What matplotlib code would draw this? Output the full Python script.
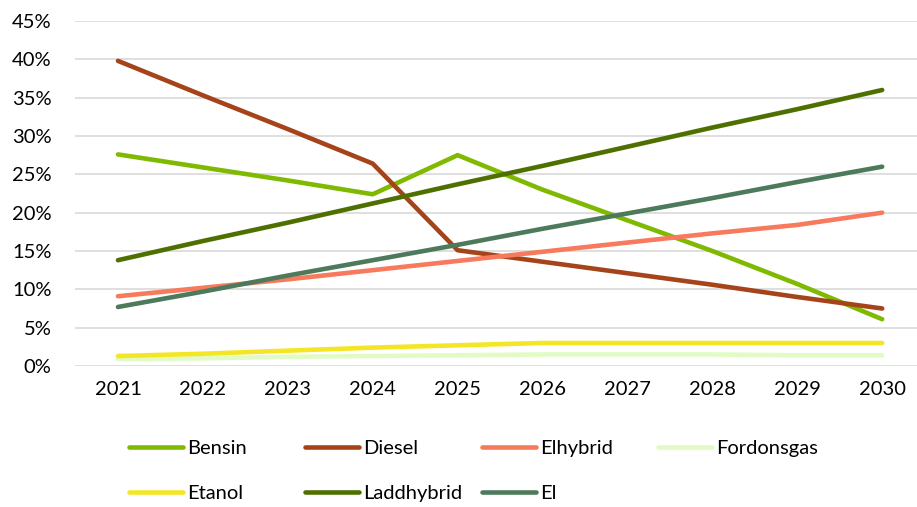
import matplotlib.pyplot as plt
from matplotlib.ticker import PercentFormatter

plt.rcParams["font.family"] = ["Lato", "DejaVu Sans"]

years = [2021, 2022, 2023, 2024, 2025, 2026, 2027, 2028, 2029, 2030]
bensin = [27.6, 25.9, 24.2, 22.4, 27.5, 23.0, 19.0, 15.0, 10.7, 6.1]
diesel = [39.8, 35.3, 30.9, 26.4, 15.1, 13.6, 12.1, 10.6, 9.0, 7.5]
elhybrid = [9.1, 10.2, 11.3, 12.5, 13.7, 14.9, 16.1, 17.3, 18.4, 20.0]
fordonsgas = [0.9, 1.0, 1.2, 1.3, 1.4, 1.5, 1.5, 1.5, 1.4, 1.4]
etanol = [1.3, 1.6, 2.0, 2.4, 2.7, 3.0, 3.0, 3.0, 3.0, 3.0]
laddhybrid = [13.8, 16.3, 18.7, 21.2, 23.7, 26.1, 28.6, 31.1, 33.5, 36.0]
el = [7.7, 9.7, 11.8, 13.8, 15.8, 17.9, 19.9, 21.9, 24.0, 26.0]

series = [
    ("Bensin", bensin, "#7FBA00"),
    ("Diesel", diesel, "#A5441A"),
    ("Elhybrid", elhybrid, "#F87A5D"),
    ("Fordonsgas", fordonsgas, "#E2FBC4"),
    ("Etanol", etanol, "#F5E625"),
    ("Laddhybrid", laddhybrid, "#4E7000"),
    ("El", el, "#4E7A5C"),
]

fig = plt.figure(figsize=(9.17, 5.07), dpi=100)
ax = fig.add_axes([75 / 917, 141 / 507, 842 / 917, 345 / 507])

x = list(range(len(years)))
handles = []
for name, vals, col in series:
    (h,) = ax.plot(x, [v / 100 for v in vals], color=col, lw=3.3,
                   solid_capstyle="round", label=name)
    handles.append(h)

ax.set_xlim(-0.506, 9.41)
ax.set_ylim(0, 0.45)
ax.set_yticks([i * 0.05 for i in range(10)])
ax.yaxis.set_major_formatter(PercentFormatter(1.0, decimals=0))
ax.set_xticks(x)
ax.set_xticklabels([str(y) for y in years])
ax.grid(axis="y", color="#D9D9D9", lw=1.2)
ax.set_axisbelow(True)
for s in ax.spines.values():
    s.set_visible(False)
ax.tick_params(length=0, labelsize=14.5, colors="black")
ax.tick_params(axis="y", pad=17)
ax.tick_params(axis="x", pad=11)

# legend: fixed grid of entries, 4 per row
col_x = [129, 305, 482, 658]
row_y = [448, 493]
for i, h in enumerate(handles):
    r, c = divmod(i, 4)
    fig.legend(handles=[h], labels=[h.get_label()],
               loc="center left",
               bbox_to_anchor=(col_x[c] / 917, 1 - row_y[r] / 507),
               frameon=False, fontsize=14.5, handlelength=2.7,
               handletextpad=0.2, borderpad=0, borderaxespad=0)

fig.savefig("out.png", dpi=100)
